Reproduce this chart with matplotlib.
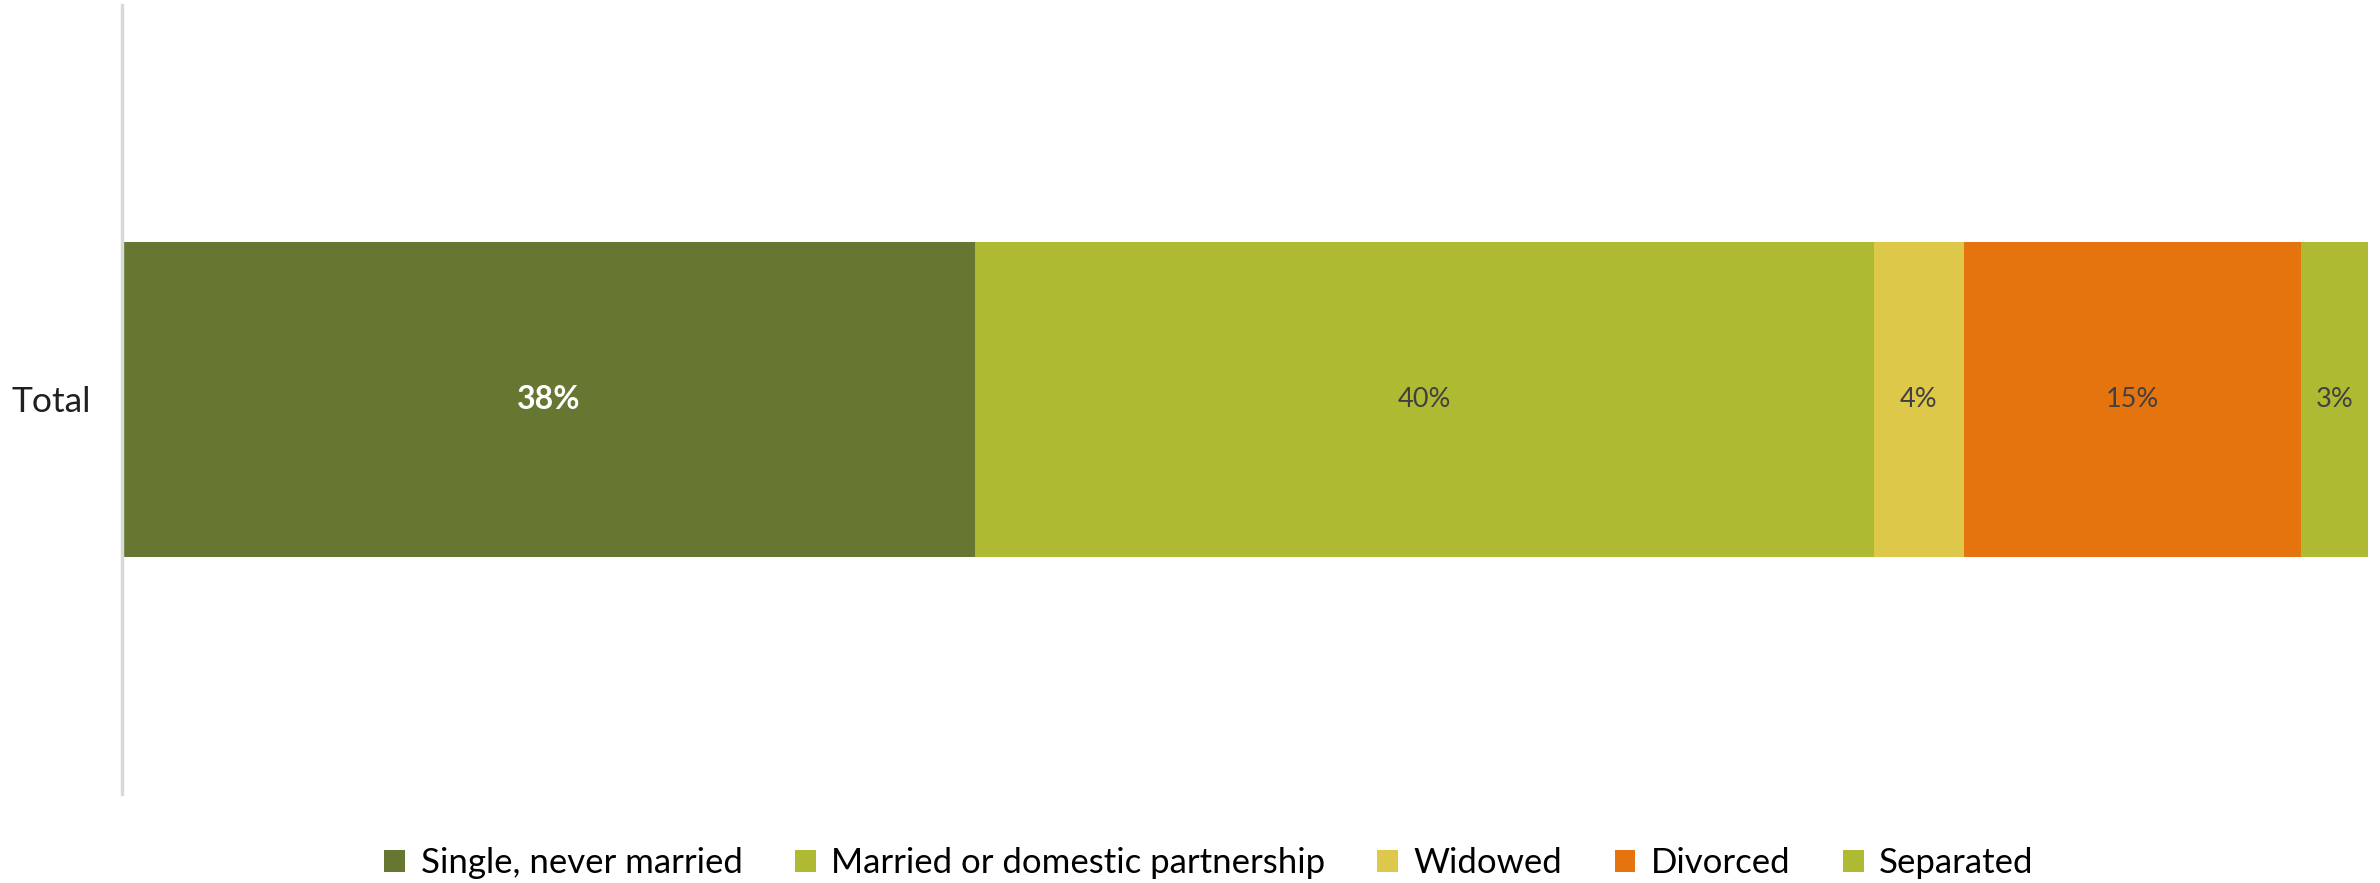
import matplotlib
matplotlib.use("Agg")
import matplotlib.pyplot as plt
from matplotlib.patches import Patch

plt.rcParams["font.family"] = ["Lato", "DejaVu Sans"]

categories = ["Total"]
series_names = ["Single, never married", "Married or domestic partnership",
                "Widowed", "Divorced", "Separated"]
values = [38, 40, 4, 15, 3]
colors = ["#667731", "#AFBA33", "#DDC84A", "#E5740F", "#AFBA33"]
label_colors = ["white", "#404040", "#404040", "#404040", "#404040"]
label_weights = ["bold", "normal", "normal", "normal", "normal"]
label_sizes = [23, 19.5, 19.5, 19.5, 19.5]

fig = plt.figure(figsize=(23.8, 8.83), dpi=100)
ax = fig.add_axes([122 / 2380, 1 - 794 / 883, (2368 - 122) / 2380, (794 - 5) / 883])

left = 0
for name, v, c, lc, lw, ls in zip(series_names, values, colors, label_colors,
                                  label_weights, label_sizes):
    ax.barh(categories, [v], left=[left], height=0.4, color=c, edgecolor="none")
    ax.text(left + v / 2, 0, f"{v}%", ha="center", va="center",
            fontsize=ls, color=lc, fontweight=lw)
    left += v

ax.set_xlim(0, 100)
ax.set_ylim(-0.5, 0.5)
ax.set_xticks([])
for s in ["top", "right", "bottom"]:
    ax.spines[s].set_visible(False)
ax.spines["left"].set_color("#D9D9D9")
ax.spines["left"].set_linewidth(2.5)
ax.tick_params(axis="y", length=0, pad=22, labelsize=25.5, labelcolor="#202020")

handles = [Patch(facecolor=c, edgecolor="none") for c in colors]
fig.legend(handles, series_names, loc="lower center", bbox_to_anchor=(0.508, -0.015),
           ncol=5, frameon=False, fontsize=25, handlelength=0.6, handleheight=0.6,
           handletextpad=0.45, columnspacing=1.5, borderpad=0.0)

fig.savefig("out.png", dpi=100, facecolor="white")
